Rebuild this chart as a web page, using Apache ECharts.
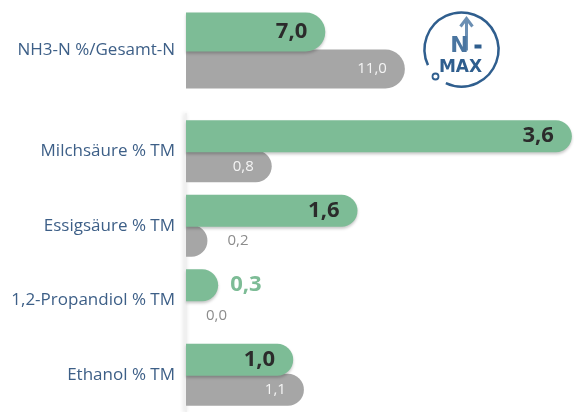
<!DOCTYPE html>
<html>
<head>
<meta charset="utf-8">
<script src="https://cdn.jsdelivr.net/npm/echarts@6/dist/echarts.min.js"></script>
<style>
  html, body { margin: 0; padding: 0; background: #fff; }
  #main { width: 574px; height: 412px; }
</style>
</head>
<body>
<div id="main"></div>
<script>
// Obere Gruppe (eigene Skala)
var topCategory = ['NH3-N %/Gesamt-N'];
var topGreen = [7.0];
var topGray = [11.0];

// Untere Gruppe
var categories = ['Milchsäure % TM', 'Essigsäure % TM', '1,2-Propandiol % TM', 'Ethanol % TM'];
var greenValues = [3.6, 1.6, 0.3, 1.0];
var grayValues = [0.8, 0.2, 0.0, 1.1];

var GREEN = '#7dbc96';
var GRAY = '#a6a6a6';
var BLUE = '#3d5f87';
var FONT = 'Open Sans';

function fmt(v) {
	return v.toFixed(1).replace('.', ',');
}

// kleine Werte stehen ausserhalb des Balkens
function greenData(arr) {
	var out = [];
	for (var i = 0; i < arr.length; i++) {
		var small = arr[i] < 0.5;
		out.push({
			value: arr[i],
			label: {
				position: small ? 'right' : 'insideRight',
				distance: small ? 12 : 18,
				color: small ? GREEN : '#2b2b2b'
			}
		});
	}
	return out;
}

function grayData(arr) {
	var out = [];
	for (var i = 0; i < arr.length; i++) {
		var small = arr[i] < 0.5;
		out.push({
			value: arr[i],
			label: {
				position: small ? 'right' : 'insideRight',
				distance: small ? 20 : 18,
				color: small ? '#8c8c8c' : '#f4f4f4'
			}
		});
	}
	return out;
}

var myChart = echarts.init(document.getElementById('main'));

var greenLabel = {
	show: true,
	fontFamily: FONT,
	fontWeight: 'bold',
	fontSize: 22,
	formatter: function(p) { return fmt(p.value); }
};
var grayLabel = {
	show: true,
	fontFamily: FONT,
	fontSize: 15,
	formatter: function(p) { return fmt(p.value); }
};

var option = {
	backgroundColor: '#fff',
	animation: false,
	grid: [
		{ left: 186, right: 0, top: 0, height: 101 },
		{ left: 186, right: 0, top: 114, height: 302 }
	],
	xAxis: [
		{ gridIndex: 0, type: 'value', min: 0, max: 19.5, show: false },
		{ gridIndex: 1, type: 'value', min: 0, max: 3.62, show: false }
	],
	yAxis: [
		{
			gridIndex: 0,
			type: 'category',
			inverse: true,
			data: topCategory,
			axisLine: { show: false },
			axisTick: { show: false },
			axisLabel: {
				color: BLUE,
				fontFamily: FONT,
				fontSize: 17,
				margin: 11,
				padding: [0, 0, 30, 0]
			}
		},
		{
			gridIndex: 1,
			type: 'category',
			inverse: true,
			data: categories,
			axisLine: {
				show: true,
				lineStyle: {
					color: '#f0f0f0',
					width: 2,
					shadowColor: 'rgba(0,0,0,0.18)',
					shadowBlur: 4,
					shadowOffsetX: -1
				}
			},
			axisTick: { show: false },
			axisLabel: {
				color: BLUE,
				fontFamily: FONT,
				fontSize: 17,
				margin: 11,
				padding: [0, 0, 26, 0]
			}
		}
	],
	series: [
		{
			type: 'bar',
			xAxisIndex: 0,
			yAxisIndex: 0,
			z: 3,
			barWidth: 39,
			barGap: '-5%',
			data: greenData(topGreen),
			itemStyle: {
				color: GREEN,
				borderRadius: [0, 20, 20, 0],
				shadowColor: 'rgba(0,0,0,0.22)',
				shadowBlur: 3,
				shadowOffsetY: 2
			},
			label: greenLabel
		},
		{
			type: 'bar',
			xAxisIndex: 0,
			yAxisIndex: 0,
			z: 2,
			barWidth: 39,
			barGap: '-5%',
			data: grayData(topGray),
			itemStyle: {
				color: GRAY,
				borderRadius: [0, 20, 20, 0]
			},
			label: grayLabel
		},
		{
			type: 'bar',
			xAxisIndex: 1,
			yAxisIndex: 1,
			z: 3,
			barWidth: 32,
			barGap: '-6%',
			data: greenData(greenValues),
			itemStyle: {
				color: GREEN,
				borderRadius: [0, 17, 17, 0],
				shadowColor: 'rgba(0,0,0,0.22)',
				shadowBlur: 3,
				shadowOffsetY: 2
			},
			label: greenLabel
		},
		{
			type: 'bar',
			xAxisIndex: 1,
			yAxisIndex: 1,
			z: 2,
			barWidth: 32,
			barGap: '-6%',
			data: grayData(grayValues),
			itemStyle: {
				color: GRAY,
				borderRadius: [0, 16, 16, 0]
			},
			label: grayLabel
		}
	],
	// Logo N-MAX
	graphic: [
		{
			type: 'group',
			left: 422,
			top: 10,
			children: [
				{
					type: 'arc',
					shape: { cx: 39, cy: 39, r: 37, startAngle: 155 * Math.PI / 180, endAngle: 475 * Math.PI / 180 },
					style: { stroke: '#2f5e8e', lineWidth: 2.5, fill: null }
				},
				{
					type: 'circle',
					shape: { cx: 13, cy: 66, r: 3 },
					style: { stroke: '#2f5e8e', lineWidth: 1.8, fill: '#fff' }
				},
				{
					type: 'line',
					shape: { x1: 44, y1: 40, x2: 44, y2: 8 },
					style: { stroke: '#6b8fb3', lineWidth: 3 }
				},
				{
					type: 'polyline',
					shape: { points: [[38, 16], [44, 8], [50, 16]] },
					style: { stroke: '#6b8fb3', lineWidth: 3, fill: null }
				},
				{
					type: 'text',
					style: { text: 'N', x: 37, y: 36, align: 'center', verticalAlign: 'middle', font: 'bold 22px "DejaVu Sans"', fill: '#4a75a0' }
				},
				{
					type: 'rect',
					shape: { x: 52, y: 34, width: 7, height: 4 },
					style: { fill: '#2f5e8e' }
				},
				{
					type: 'text',
					style: { text: 'MAX', x: 38, y: 57, align: 'center', verticalAlign: 'middle', font: 'bold 17px "DejaVu Sans"', fill: '#2f5e8e' }
				}
			]
		}
	]
};

myChart.setOption(option);
</script>
</body>
</html>
